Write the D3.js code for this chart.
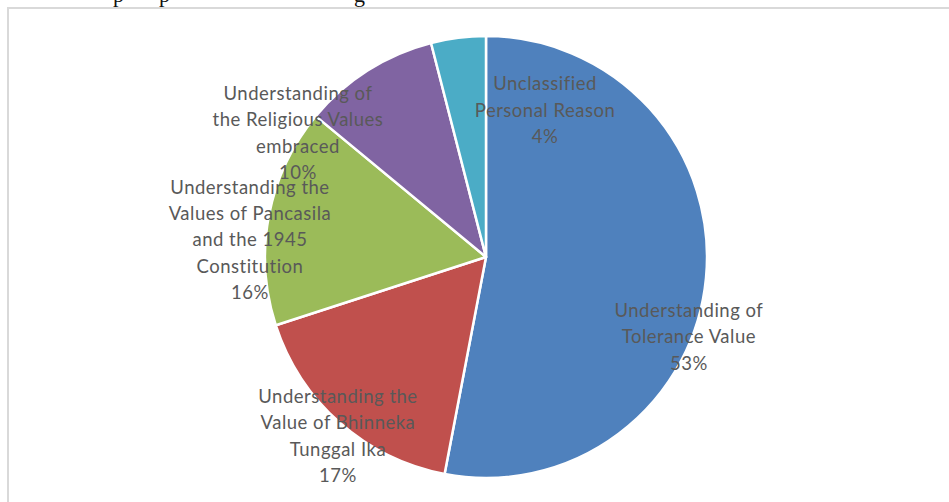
<!DOCTYPE html>
<html>
<head>
<meta charset="utf-8">
<script src="https://cdn.jsdelivr.net/npm/d3@7"></script>
<style>
  html, body { margin: 0; padding: 0; background: #fff; }
  svg { display: block; }
</style>
</head>
<body>
<svg id="chart" width="949" height="502"></svg>
<script>
// Reasons given, share of responses (%)
const categories = [
  "Understanding of Tolerance Value",
  "Understanding the Value of Bhinneka Tunggal Ika",
  "Understanding the Values of Pancasila and the 1945 Constitution",
  "Understanding of the Religious Values embraced",
  "Unclassified Personal Reason"
];
const values = [53, 17, 16, 10, 4];

// Wrapped label lines for each slice
const labelLines = [
  ["Understanding of", "Tolerance Value"],
  ["Understanding the", "Value of Bhinneka", "Tunggal Ika"],
  ["Understanding the", "Values of Pancasila", "and the 1945", "Constitution"],
  ["Understanding of", "the Religious Values", "embraced"],
  ["Unclassified", "Personal Reason"]
];

const colors = ["#4F81BD", "#C0504D", "#9BBB59", "#8064A2", "#4BACC6"];

const svg = d3.select("#chart");
const W = 949, H = 502;

// Chart area frame (continues past the right and bottom edges)
svg.append("rect")
  .attr("x", 8).attr("y", 8)
  .attr("width", W + 20).attr("height", H + 20)
  .attr("fill", "#fff")
  .attr("stroke", "#d9d9d9")
  .attr("stroke-width", 2);

// Descenders of the body text line above the figure
svg.append("g")
  .attr("font-family", "'Liberation Serif', 'DejaVu Serif', serif")
  .attr("font-size", 22)
  .attr("fill", "#111")
  .selectAll("text")
  .data([{ t: "p", x: 113 }, { t: "p", x: 159 }, { t: "g", x: 354 }])
  .join("text")
  .attr("x", d => d.x).attr("y", 1.5)
  .text(d => d.t);

const cx = 486, cy = 257, R = 221;

const pie = d3.pie().sort(null).value(d => d)(values);
const arc = d3.arc().innerRadius(0).outerRadius(R);

const g = svg.append("g").attr("transform", `translate(${cx},${cy})`);

g.selectAll("path")
  .data(pie)
  .join("path")
  .attr("d", arc)
  .attr("fill", (d, i) => colors[i])
  .attr("stroke", "#fff")
  .attr("stroke-width", 2.5)
  .attr("stroke-linejoin", "round");

// Label anchors, relative to the pie centre in units of the radius
const labelSpots = [
  [0.918, 0.362],
  [-0.670, 0.81],
  [-1.068, -0.077],
  [-0.851, -0.561],
  [0.267, -0.665]
];
const lineH = 26.3;

const labels = g.append("g")
  .attr("font-family", "Lato, 'Open Sans', sans-serif")
  .attr("font-size", 18.5)
  .attr("letter-spacing", 0.5)
  .attr("fill", "#595959")
  .attr("text-anchor", "middle");

pie.forEach((p, i) => {
  const lines = labelLines[i].concat([Math.round(p.value) + "%"]);
  const [fx, fy] = labelSpots[i];
  const x = fx * R, y = fy * R;
  const top = y - (lines.length - 1) * lineH / 2;
  const t = labels.append("text");
  lines.forEach((ln, k) => {
    t.append("tspan")
      .attr("x", x)
      .attr("y", top + k * lineH)
      .attr("dy", "0.35em")
      .text(ln);
  });
});
</script>
</body>
</html>
